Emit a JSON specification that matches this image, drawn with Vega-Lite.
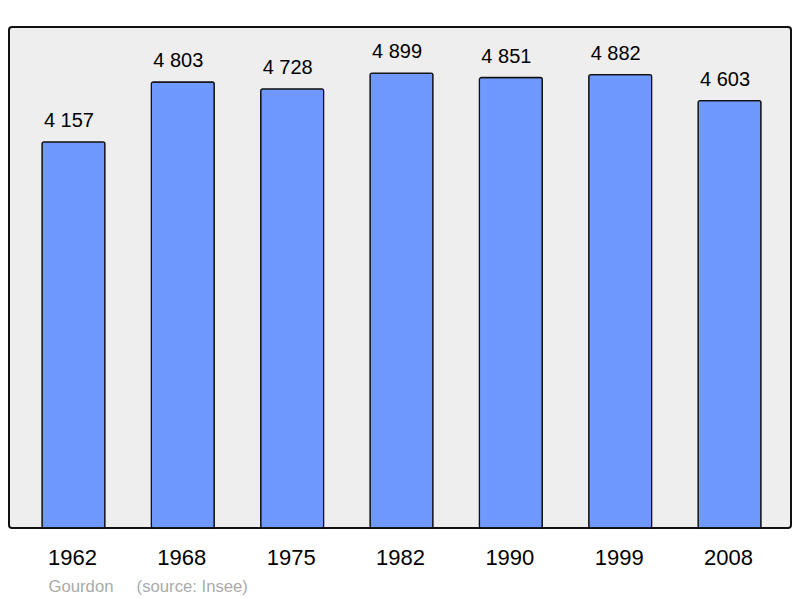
{
  "$schema": "https://vega.github.io/schema/vega-lite/v6.json",
  "autosize": {"type": "none"},
  "width": 782,
  "height": 501,
  "padding": {"left": 9, "top": 27, "right": 9, "bottom": 70},
  "background": "white",
  "config": {
    "locale": {"number": {"decimal": ",", "thousands": " ", "grouping": [3], "currency": ["", " €"]}},
    "view": {"fill": "#eeeeee", "stroke": "#111111", "strokeWidth": 2, "cornerRadius": 3},
    "font": "Liberation Sans"
  },
  "data": {
    "values": [
      {"year": "1962", "pop": 4157},
      {"year": "1968", "pop": 4803},
      {"year": "1975", "pop": 4728},
      {"year": "1982", "pop": 4899},
      {"year": "1990", "pop": 4851},
      {"year": "1999", "pop": 4882},
      {"year": "2008", "pop": 4603}
    ]
  },
  "encoding": {
    "x": {
      "field": "year",
      "type": "ordinal",
      "scale": {"paddingInner": 0.4244, "paddingOuter": 0.288, "align": 0.524},
      "axis": {
        "labelAngle": 0,
        "labelFontSize": 22,
        "labelColor": "#000000",
        "labelFont": "Liberation Sans",
        "labelBaseline": "alphabetic",
        "labelPadding": 36,
        "labelOffset": -1,
        "ticks": false,
        "domain": false,
        "title": "Gourdon\u00a0\u00a0\u00a0\u00a0\u00a0(source: Insee)",
        "titleFont": "Liberation Sans",
        "titleFontSize": 16.7,
        "titleFontWeight": "normal",
        "titleColor": "#aaaaaa",
        "titleAlign": "left",
        "titleAnchor": "start",
        "titleBaseline": "alphabetic",
        "titleX": 39,
        "titleY": 63
      }
    },
    "y": {
      "field": "pop",
      "type": "quantitative",
      "scale": {"domain": [0, 5395], "nice": false},
      "axis": null
    }
  },
  "layer": [
    {
      "mark": {"type": "bar", "fill": "#7099ff", "stroke": "#111111", "strokeWidth": 1.3, "cornerRadius": 2}
    },
    {
      "mark": {"type": "text", "baseline": "alphabetic", "dy": -15, "dx": -4.5, "fontSize": 20, "font": "Liberation Sans", "color": "#000000"},
      "encoding": {"text": {"field": "pop", "type": "quantitative", "format": ","}}
    }
  ]
}
